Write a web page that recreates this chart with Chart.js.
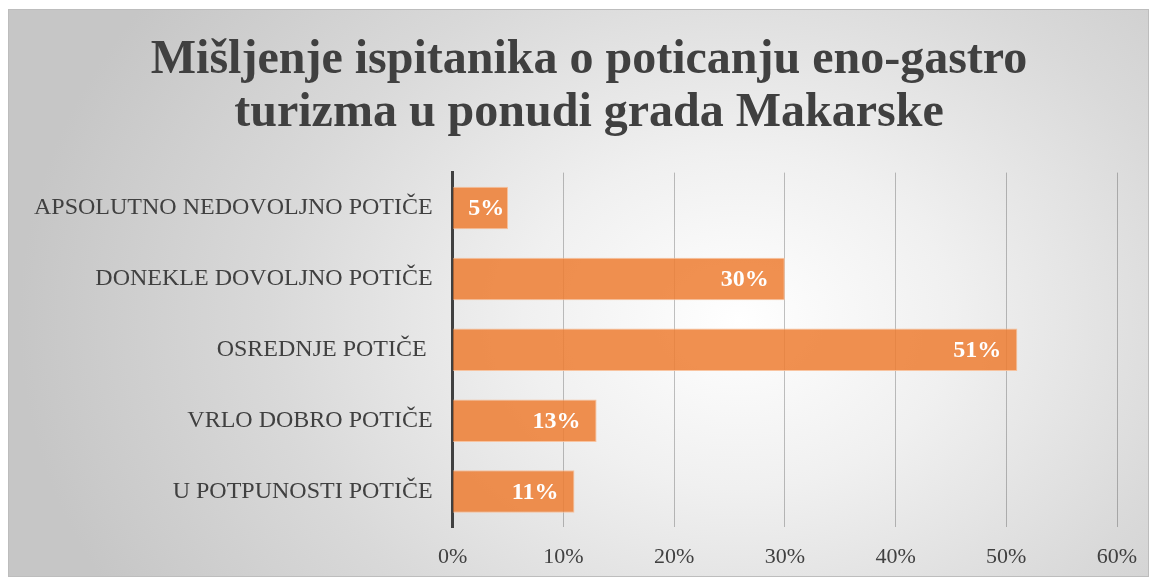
<!DOCTYPE html>
<html>
<head>
<meta charset="utf-8">
<script src="https://cdn.jsdelivr.net/npm/chart.js@4"></script>
<style>
  body { margin: 0; background: #fff; }
  #box {
    position: absolute; left: 8px; top: 9px; width: 1141px; height: 568px;
    border: 1px solid #bdbdbd; box-sizing: border-box;
    background: radial-gradient(ellipse 720px 560px at 730px 310px, #ffffff 0%, #f0f0f0 30%, #d9d9d9 65%, #c6c6c6 100%);
  }
</style>
</head>
<body>
<div id="box"><canvas id="chart"></canvas></div>
<script>
var categories = ['APSOLUTNO NEDOVOLJNO POTIČE', 'DONEKLE DOVOLJNO POTIČE', 'OSREDNJE POTIČE ', 'VRLO DOBRO POTIČE', 'U POTPUNOSTI POTIČE']
var values = [5, 30, 51, 13, 11]
var titleLines = ['Mišljenje ispitanika o poticanju eno-gastro', 'turizma u ponudi grada Makarske']
var serif = '"Liberation Serif", "Times New Roman", serif'

// value labels inside the bar end, white bold
var barLabels = {
    id: 'barLabels',
    afterLayout: function(chart) {
        // title sits a bit right of the canvas centre in the original
        if (chart.titleBlock) chart.titleBlock.left += 16
    },
    afterDatasetsDraw: function(chart) {
        var ctx = chart.ctx
        var meta = chart.getDatasetMeta(0)
        ctx.save()
        ctx.fillStyle = '#ffffff'
        ctx.font = 'bold 24px ' + serif
        ctx.textAlign = 'right'
        ctx.textBaseline = 'middle'
        meta.data.forEach(function(bar, i) {
            var txt = values[i] + '%'
            var w = ctx.measureText(txt).width
            var x = Math.max(bar.x - 16, bar.base + 15 + w)
            ctx.fillText(txt, x, bar.y + 1)
        })
        ctx.restore()
    }
}

var ctx = document.getElementById('chart')
var chart = new Chart(ctx, {
    type: 'bar',
    data: {
        labels: categories,
        datasets: [{
            data: values,
            backgroundColor: 'rgba(237,125,49,0.85)',
            borderColor: 'rgba(248,190,150,0.9)',
            borderWidth: 1,
            categoryPercentage: 0.6,
            barPercentage: 1
        }]
    },
    plugins: [barLabels],
    options: {
        indexAxis: 'y',
        responsive: true,
        maintainAspectRatio: false,
        animation: false,
        layout: { padding: { top: 24, right: 0, bottom: 0, left: 5 } },
        plugins: {
            legend: { display: false },
            tooltip: { enabled: false },
            title: {
                display: true,
                text: titleLines,
                color: '#404040',
                font: { family: serif, size: 48, weight: 'bold', lineHeight: 1.1 },
                padding: { top: 0, bottom: 33 }
            }
        },
        scales: {
            x: {
                min: 0,
                max: 60,
                ticks: {
                    stepSize: 10,
                    color: '#404040',
                    font: { family: serif, size: 22 },
                    padding: 17,
                    callback: function(value) { return value + '%' }
                },
                grid: { color: 'rgba(0,0,0,0.24)', drawTicks: false },
                border: { display: false },
                afterFit: function(scale) {
                    scale.height = 49
                    scale.paddingRight = 31
                }
            },
            y: {
                ticks: {
                    color: '#404040',
                    font: { family: serif, size: 24 },
                    padding: 20
                },
                grid: { display: false, drawTicks: false },
                border: { color: '#404040', width: 3 }
            }
        }
    }
})
</script>
</body>
</html>
